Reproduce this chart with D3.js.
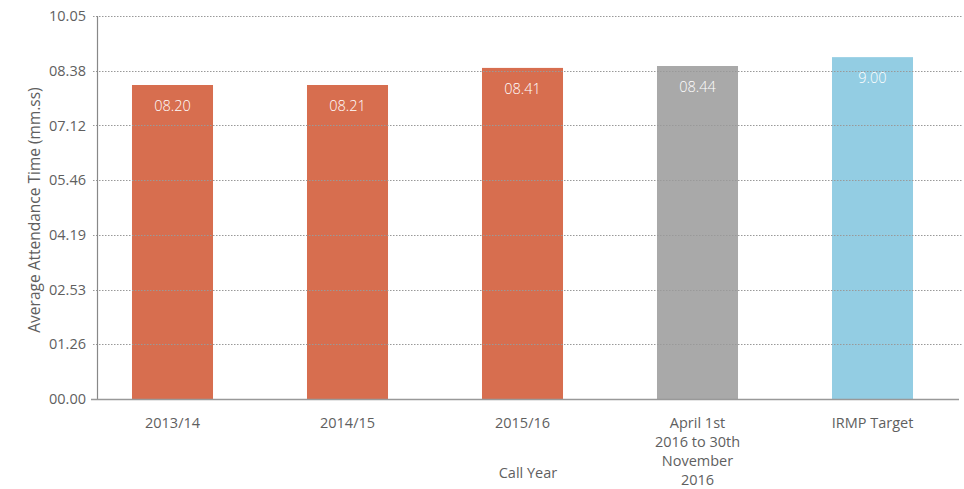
<!DOCTYPE html>
<html><head><meta charset="utf-8">
<script src="https://cdn.jsdelivr.net/npm/d3@7"></script>
<style>body{margin:0;background:#fff}svg{display:block}text{font-family:"Open Sans","Lato",sans-serif}</style>
</head><body><svg id="c" width="964" height="489"></svg>
<script>
const categories = ["2013/14","2014/15","2015/16","April 1st|2016 to 30th|November|2016","IRMP Target"];
const valueLabels = ["08.20","08.21","08.41","08.44","9.00"];
const valuesSec = [496, 496, 523, 526, 540];
const barColors = ["#D76E4F","#D76E4F","#D76E4F","#A9A9A9","#93CDE3"];
const tickSec = [0, 86.43, 172.86, 259.29, 345.71, 432.14, 518.57, 605];
const tickLabels = ["00.00","01.26","02.53","04.19","05.46","07.12","08.38","10.05"];

const svg = d3.select("#c");
const y = d3.scaleLinear().domain([0,605]).range([399,16]);
const x = d3.scaleBand().domain(categories).range([85,960]).paddingInner(0.537).paddingOuter(0.2685);
const axisX = 97, rightX = 963;
const txt = "#5f5f5f";

svg.selectAll("rect.bar").data(categories).join("rect")
  .attr("x", d=>x(d)).attr("width", x.bandwidth())
  .attr("y", (d,i)=>y(valuesSec[i])).attr("height",(d,i)=>y(0)-y(valuesSec[i]))
  .attr("fill",(d,i)=>barColors[i]);

svg.selectAll("line.grid").data(tickSec.slice(1)).join("line")
  .attr("x1", axisX-4).attr("x2", rightX).attr("y1", d=>Math.round(y(d))+0.5).attr("y2", d=>Math.round(y(d))+0.5)
  .attr("stroke","#999").attr("stroke-width",1).attr("stroke-dasharray","1.5,1.5");

svg.append("line").attr("x1",axisX+0.5).attr("x2",axisX+0.5).attr("y1",y(605)).attr("y2",y(0)).attr("stroke","#888").attr("stroke-width",1.2);
svg.append("line").attr("x1",axisX-6).attr("x2",959).attr("y1",y(0)+0.5).attr("y2",y(0)+0.5).attr("stroke","#999").attr("stroke-width",1.5);

svg.selectAll("text.yt").data(tickSec).join("text")
  .attr("x",86).attr("y",d=>y(d)).attr("dy","0.35em").attr("text-anchor","end")
  .attr("fill",txt).attr("font-size",14.5).text((d,i)=>tickLabels[i]);

svg.selectAll("text.vl").data(categories).join("text")
  .attr("x",d=>x(d)+x.bandwidth()/2).attr("y",(d,i)=>y(valuesSec[i])+21).attr("dy","0.35em")
  .attr("text-anchor","middle").attr("fill","#fff").attr("font-size",14.5).attr("font-weight",300)
  .text((d,i)=>valueLabels[i]);

svg.selectAll("text.xl").data(categories).join("text")
  .attr("x",d=>x(d)+x.bandwidth()/2).attr("y",427.5).attr("text-anchor","middle")
  .attr("fill",txt).attr("font-size",14.5)
  .each(function(d){
    const t=d3.select(this);
    d.split("|").forEach((l,j)=>t.append("tspan").attr("x",x(d)+x.bandwidth()/2).attr("dy",j?19:0).text(l));
  });

svg.append("text").attr("x",528).attr("y",478).attr("text-anchor","middle").attr("fill",txt).attr("font-size",14.5).text("Call Year");
svg.append("text").attr("transform","translate(35,210) rotate(-90)").attr("dy","0.35em").attr("text-anchor","middle").attr("fill",txt).attr("font-size",15.5).text("Average Attendance Time (mm.ss)");
</script></body></html>
